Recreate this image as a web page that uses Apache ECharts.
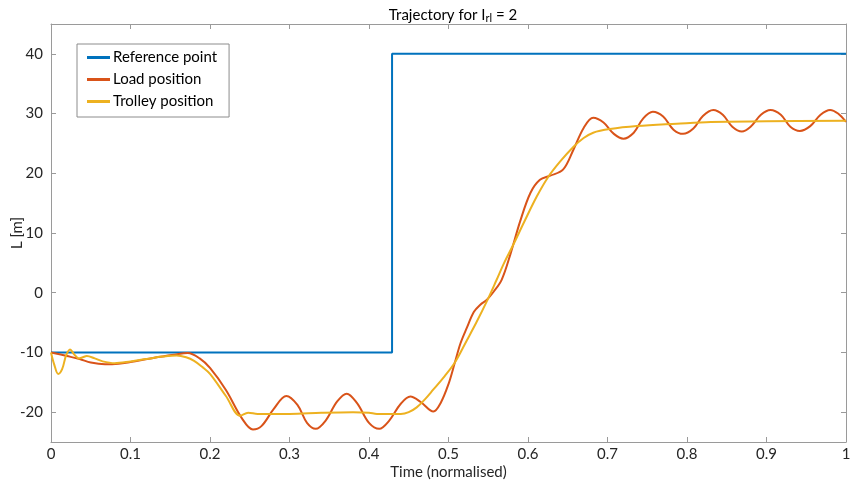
<!DOCTYPE html>
<html>
<head>
<meta charset="utf-8">
<script src="https://cdn.jsdelivr.net/npm/echarts@6/dist/echarts.min.js"></script>
<style>
  html, body { margin: 0; padding: 0; background: #fff; }
  #chart { width: 857px; height: 485px; }
</style>
</head>
<body>
<div id="chart"></div>
<script>
// Step reference for the trolley controller
const referencePoint = [
  [0, -10], [0.429, -10], [0.429, 40], [1, 40]
];

// Load (pendulum mass) position over normalised time
const loadPosition = [
  [0, -10], [0.02, -10.6], [0.036, -11.1], [0.05, -11.7], [0.068, -12.0], [0.085, -11.9],
  [0.1, -11.6], [0.13, -10.9], [0.155, -10.4], [0.172, -10.1], [0.187, -11.0],
  [0.2, -12.6], [0.22, -16.3], [0.24, -21.0], [0.254, -22.9], [0.265, -22.3],
  [0.28, -19.5], [0.296, -17.3], [0.31, -18.8], [0.322, -21.8], [0.333, -22.8],
  [0.345, -21.5], [0.36, -18.2], [0.372, -16.9], [0.385, -18.5], [0.4, -21.8],
  [0.413, -22.8], [0.425, -21.5], [0.44, -18.6], [0.452, -17.4], [0.465, -18.3],
  [0.481, -19.9], [0.49, -18.5], [0.5, -15.3], [0.508, -11.7], [0.515, -8.5],
  [0.523, -5.9], [0.532, -3.2], [0.54, -2.0], [0.548, -1.2], [0.557, 0.2],
  [0.567, 2.2], [0.578, 6.5], [0.59, 11.9], [0.603, 16.7], [0.615, 18.9],
  [0.628, 19.6], [0.644, 20.6], [0.657, 23.9], [0.67, 27.6], [0.682, 29.3],
  [0.695, 28.5], [0.708, 26.6], [0.72, 25.8], [0.733, 26.8], [0.745, 29.2],
  [0.757, 30.3], [0.77, 29.5], [0.783, 27.3], [0.795, 26.6], [0.808, 27.5],
  [0.82, 29.6], [0.833, 30.6], [0.845, 29.8], [0.857, 27.8], [0.869, 27.0],
  [0.88, 27.8], [0.893, 29.8], [0.905, 30.6], [0.918, 29.8], [0.93, 27.8],
  [0.942, 27.1], [0.955, 27.9], [0.968, 29.8], [0.98, 30.6], [0.99, 30.0], [1.0, 28.6]
];

// Trolley position over normalised time
const trolleyPosition = [
  [0, -10], [0.004, -12.0], [0.009, -13.6], [0.014, -12.8], [0.019, -10.5],
  [0.024, -9.5], [0.029, -10.3], [0.035, -11.0], [0.04, -10.8], [0.045, -10.6],
  [0.055, -11.0], [0.065, -11.5], [0.08, -11.8], [0.1, -11.5], [0.12, -11.1],
  [0.14, -10.7], [0.158, -10.5], [0.17, -10.8], [0.18, -11.4], [0.19, -12.4],
  [0.2, -13.6], [0.22, -17.3], [0.238, -20.6], [0.248, -20.1], [0.26, -20.3],
  [0.3, -20.3], [0.34, -20.1], [0.38, -20.0], [0.4, -20.1], [0.41, -20.3],
  [0.44, -20.3], [0.45, -20.0], [0.46, -19.2], [0.47, -17.9], [0.481, -16.2],
  [0.495, -14.0], [0.508, -11.7], [0.523, -8.0], [0.535, -5.0], [0.548, -1.5],
  [0.56, 2.0], [0.57, 5.0], [0.581, 7.9], [0.595, 11.8], [0.611, 16.1],
  [0.625, 19.3], [0.64, 21.9], [0.657, 24.4], [0.67, 25.9], [0.682, 26.8],
  [0.703, 27.4], [0.737, 27.9], [0.787, 28.3], [0.83, 28.6], [0.9, 28.7], [1.0, 28.8]
];

const yTicks = [-20, -10, 0, 10, 20, 30, 40];
const seriesNames = ['Reference point', 'Load position', 'Trolley position'];
const seriesColors = ['#0072BD', '#D95319', '#EDB120'];

const FONT = 'Lato, "Open Sans", sans-serif';
const AXIS_GREY = '#9a9a9a';
const TEXT = '#262626';

const chart = echarts.init(document.getElementById('chart'), null, { renderer: 'canvas' });

const baseX = {
  type: 'value', min: 0, max: 1, interval: 0.1,
  axisLine: { show: true, onZero: false, lineStyle: { color: AXIS_GREY, width: 1 } },
  axisTick: { show: true, inside: true, length: 5, lineStyle: { color: AXIS_GREY } },
  splitLine: { show: false }
};
const baseY = {
  type: 'value', min: -25, max: 45,
  axisLine: { show: true, onZero: false, lineStyle: { color: AXIS_GREY, width: 1 } },
  axisTick: { show: true, inside: true, length: 5, customValues: yTicks, lineStyle: { color: AXIS_GREY } },
  splitLine: { show: false }
};

chart.setOption({
  animation: false,
  backgroundColor: '#fff',
  title: {
    text: '{t|Trajectory for I}{sub|rl}{t| = 2}',
    left: 448, top: 1, textAlign: 'center',
    textStyle: {
      fontFamily: FONT, fontSize: 15, fontWeight: 'normal', color: '#000',
      rich: {
        t: { fontFamily: FONT, fontSize: 15, color: '#000' },
        sub: { fontFamily: FONT, fontSize: 11, color: '#000', padding: [7, 0, 0, 0] }
      }
    }
  },
  grid: { left: 51, right: 11, top: 24, bottom: 43, containLabel: false, outerBoundsMode: 'none' },
  legend: {
    orient: 'vertical', left: 77, top: 44,
    padding: [6, 12, 8, 10],
    backgroundColor: '#fff',
    borderColor: '#8c8c8c', borderWidth: 1,
    icon: 'rect', itemWidth: 23, itemHeight: 3, itemGap: 7,
    textStyle: { fontFamily: FONT, fontSize: 15, color: '#000', padding: [0, 0, 0, -2] },
    data: seriesNames
  },
  xAxis: [
    Object.assign({}, baseX, {
      position: 'bottom',
      name: 'Time (normalised)', nameLocation: 'middle', nameGap: 23, nameMoveOverlap: false,
      nameTextStyle: { fontFamily: FONT, fontSize: 15, color: TEXT, verticalAlign: 'top' },
      axisLabel: {
        fontFamily: FONT, fontSize: 15, color: TEXT, margin: 5,
        formatter: v => String(Math.round(v * 10) / 10)
      }
    }),
    Object.assign({}, baseX, { position: 'top', axisLabel: { show: false } })
  ],
  yAxis: [
    Object.assign({}, baseY, {
      position: 'left',
      name: 'L [m]', nameLocation: 'middle', nameGap: 26, nameMoveOverlap: false,
      nameTextStyle: { fontFamily: FONT, fontSize: 15, color: TEXT, verticalAlign: 'bottom' },
      axisLabel: { fontFamily: FONT, fontSize: 15, color: TEXT, margin: 8, customValues: yTicks }
    }),
    Object.assign({}, baseY, { position: 'right', axisLabel: { show: false } })
  ],
  series: [
    {
      name: seriesNames[0], type: 'line', data: referencePoint,
      showSymbol: false, symbol: 'none', color: seriesColors[0],
      lineStyle: { width: 2, color: seriesColors[0] }, z: 2
    },
    {
      name: seriesNames[1], type: 'line', data: loadPosition, smooth: 0.35,
      showSymbol: false, symbol: 'none', color: seriesColors[1],
      lineStyle: { width: 2, color: seriesColors[1] }, z: 3
    },
    {
      name: seriesNames[2], type: 'line', data: trolleyPosition, smooth: 0.35,
      showSymbol: false, symbol: 'none', color: seriesColors[2],
      lineStyle: { width: 2, color: seriesColors[2] }, z: 4
    }
  ]
});
</script>
</body>
</html>
